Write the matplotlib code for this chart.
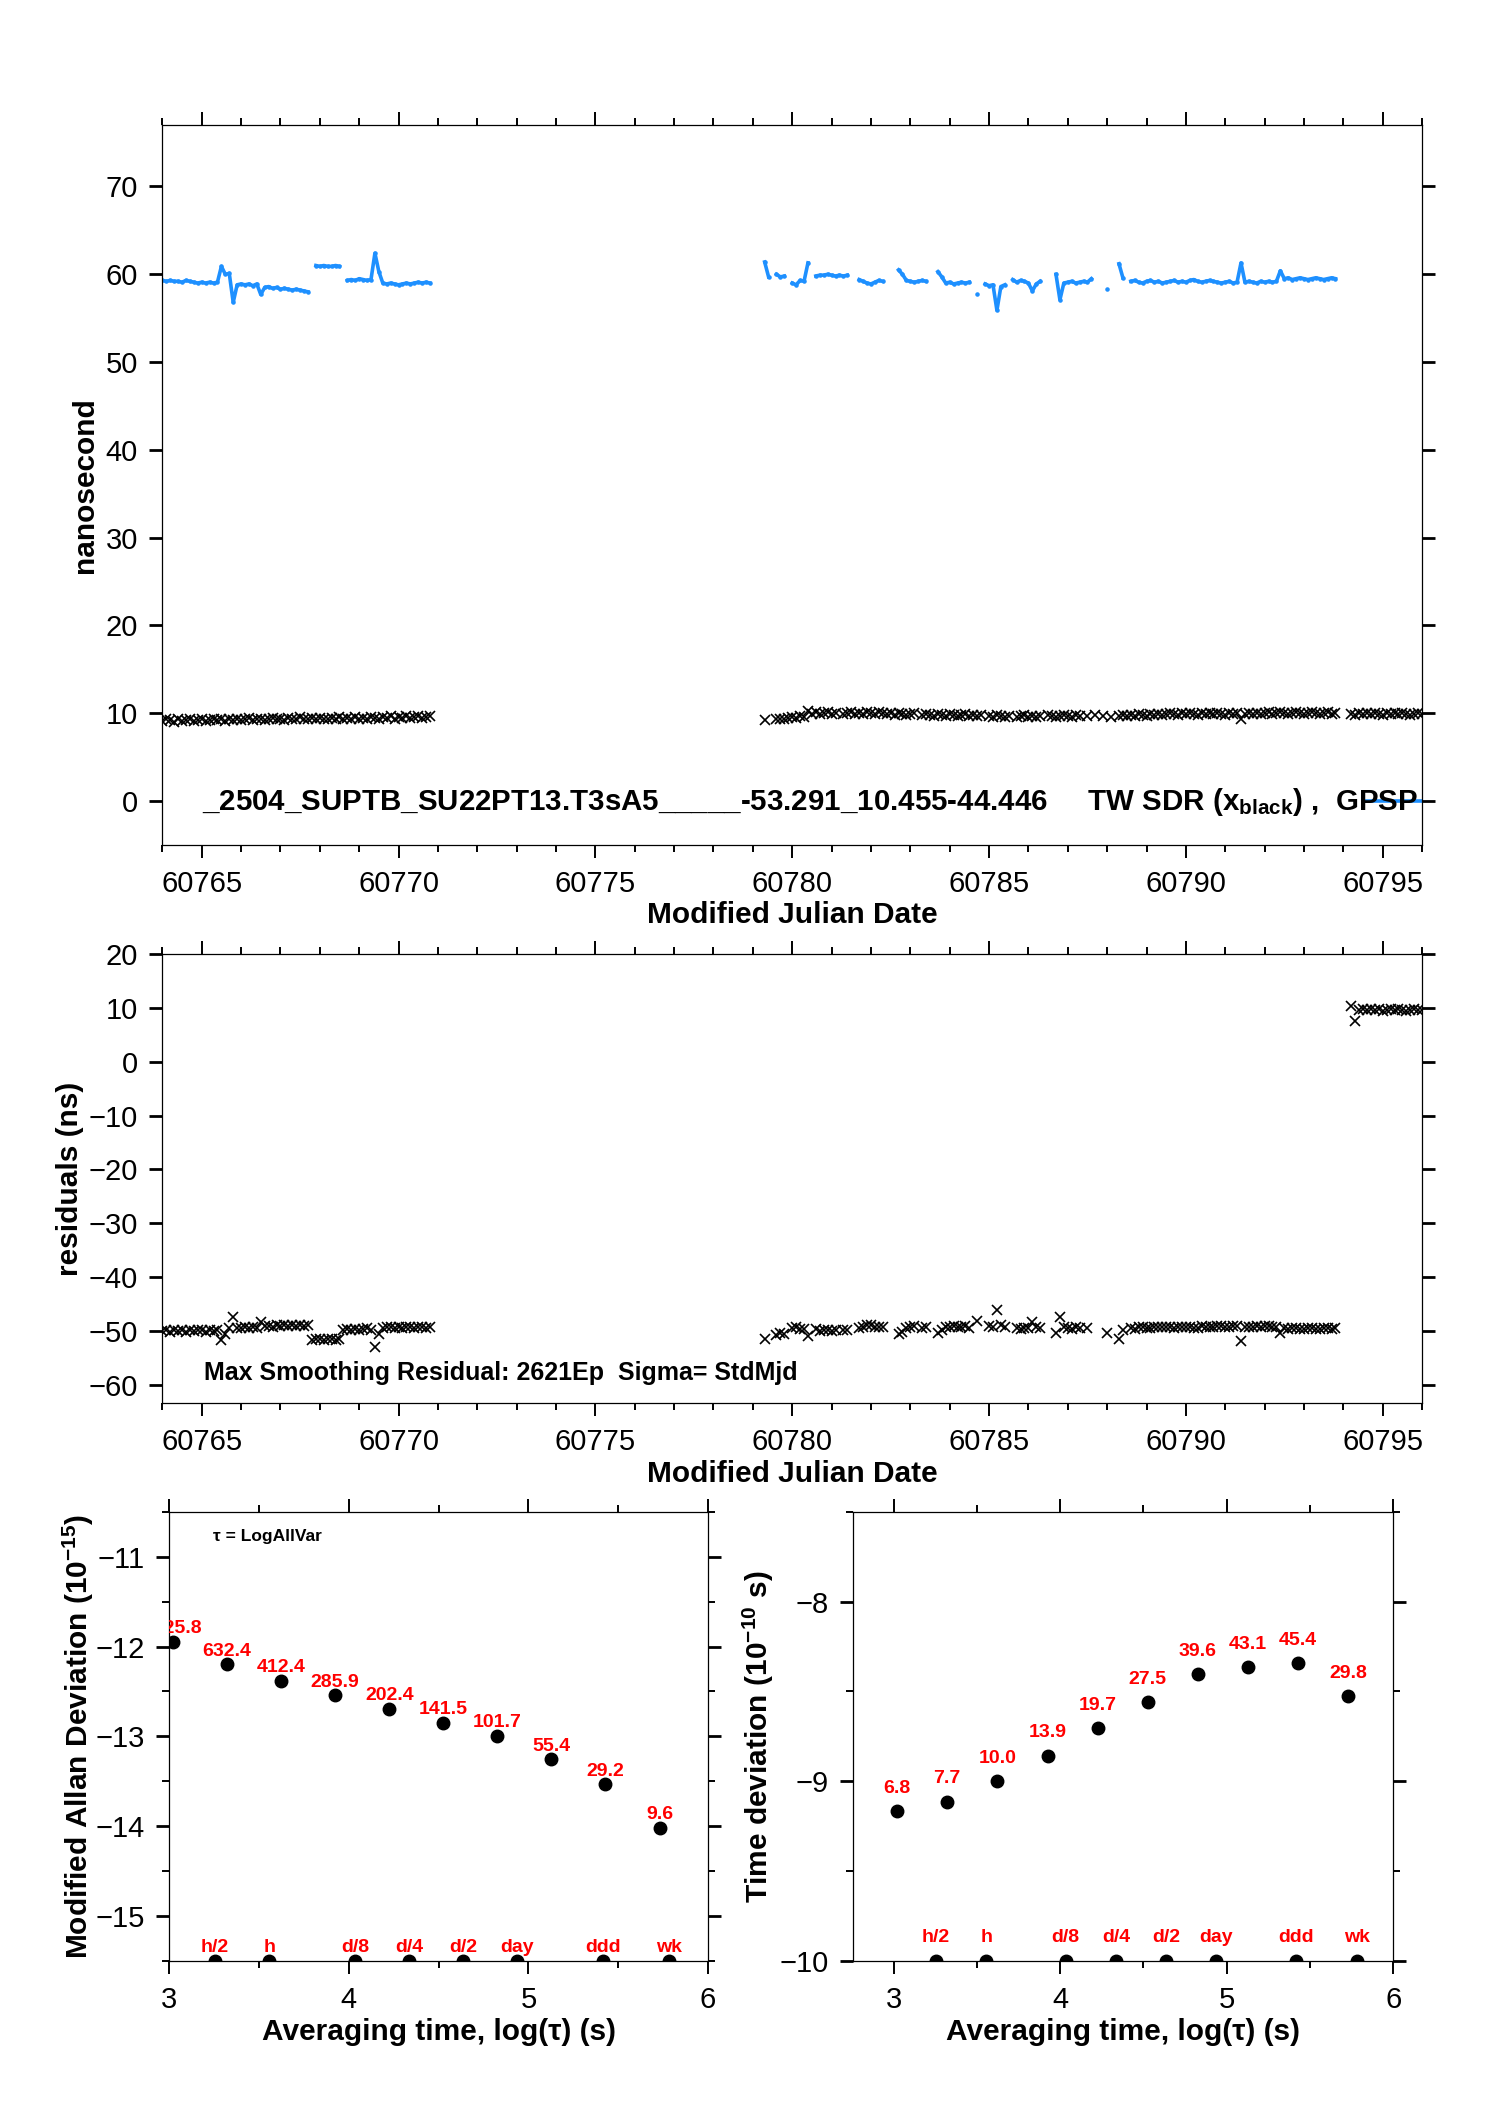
import numpy as np
import matplotlib
matplotlib.use("Agg")
import matplotlib.pyplot as plt
from matplotlib.ticker import MultipleLocator, FormatStrFormatter

plt.rcParams['font.family'] = ['Liberation Sans', 'DejaVu Sans']
plt.rcParams['mathtext.fontset'] = 'custom'
plt.rcParams['mathtext.rm'] = 'Liberation Sans:bold'
plt.rcParams['mathtext.it'] = 'Liberation Sans:bold'
plt.rcParams['mathtext.bf'] = 'Liberation Sans:bold'

nan = np.nan
MJD0 = 60764

# epochs, days after MJD0
t_seg1 = [0.0, 0.1, 0.2, 0.3, 0.4, 0.5, 0.6, 0.7, 0.8, 0.9,
          1.0, 1.1, 1.2, 1.3, 1.4, 1.5, 1.6, 1.7, 1.8, 1.9,
          2.0, 2.1, 2.2, 2.3, 2.4, 2.5, 2.6, 2.7, 2.8, 2.9,
          3.0, 3.1, 3.2, 3.3, 3.4, 3.5, 3.6, 3.7, 3.8, 3.9,
          4.0, 4.1, 4.2, 4.3, 4.4, 4.5, 4.6, 4.7, 4.8, 4.9,
          5.0, 5.1, 5.2, 5.3, 5.4, 5.5, 5.6, 5.7, 5.8, 5.9,
          6.0, 6.1, 6.2, 6.3, 6.4, 6.5, 6.6, 6.7, 6.8]
t_seg2 = [15.3, 15.4, 15.5, 15.6, 15.7, 15.8, 15.9, 16.0, 16.1, 16.2,
          16.3, 16.4, 16.5, 16.6, 16.7, 16.8, 16.9, 17.0, 17.1, 17.2,
          17.3, 17.4, 17.5, 17.6, 17.7, 17.8, 17.9, 18.0, 18.1, 18.2,
          18.3, 18.4, 18.5, 18.6, 18.7, 18.8, 18.9, 19.0, 19.1, 19.2,
          19.3, 19.4, 19.5, 19.6, 19.7, 19.8, 19.9, 20.0, 20.1, 20.2,
          20.3, 20.4, 20.5, 20.6, 20.7, 20.8, 20.9, 21.0, 21.1, 21.2,
          21.3, 21.4, 21.5, 21.6, 21.7, 21.8, 21.9, 22.0, 22.1, 22.2,
          22.3, 22.4, 22.5, 22.6, 22.7, 22.8, 22.9, 23.0, 23.1, 23.2,
          23.3, 23.4, 23.5, 23.6, 23.7, 23.8, 23.9, 24.0, 24.1, 24.2,
          24.3, 24.4, 24.5, 24.6, 24.7, 24.8, 24.9, 25.0, 25.1, 25.2,
          25.3, 25.4, 25.5, 25.6, 25.7, 25.8, 25.9, 26.0, 26.1, 26.2,
          26.3, 26.4, 26.5, 26.6, 26.7, 26.8, 26.9, 27.0, 27.1, 27.2,
          27.3, 27.4, 27.5, 27.6, 27.7, 27.8, 27.9, 28.0, 28.1, 28.2,
          28.3, 28.4, 28.5, 28.6, 28.7, 28.8, 28.9, 29.0, 29.1, 29.2,
          29.3, 29.4, 29.5, 29.6, 29.7, 29.8]
t_seg3 = [30.2, 30.3, 30.4, 30.5, 30.6, 30.7, 30.8, 30.9, 31.0, 31.1,
          31.2, 31.3, 31.4, 31.5, 31.6, 31.7, 31.8, 31.9, 32.0]

# TW SDR (black x), ns
sdr_seg1 = [9.1, 9.3, 9.2, 9.0, 9.3, 9.1, 9.2, 9.4, 9.1, 9.2,
            9.3, 9.1, 9.2, 9.4, 9.2, 9.3, 9.1, 9.3, 9.2, 9.4,
            9.2, 9.3, 9.5, 9.2, 9.3, 9.4, 9.2, 9.3, 9.5, 9.3,
            9.4, 9.2, 9.5, 9.3, 9.4, 9.6, 9.3, 9.4, 9.5, 9.3,
            9.5, 9.4, 9.3, 9.5, 9.4, 9.6, 9.3, 9.5, 9.4, 9.6,
            9.4, 9.5, 9.3, 9.6, 9.5, 9.4, 9.6, 9.5, 9.7, 9.4,
            9.6, 9.5, 9.7, 9.5, 9.6, 9.7, 9.5, 9.6, 9.7]
sdr_seg2 = [9.2, nan, nan, 9.3, 9.4, 9.3, 9.5, 9.6, 9.5, 9.7,
            9.6, 10.3, 9.9, 10.1, 9.9, 10.0, 10.1, 9.9, 10.0, nan,
            9.9, 10.0, 10.1, 9.9, 10.0, 9.9, 10.1, 10.0, 9.9, 10.1,
            10.0, 9.9, 10.0, 9.8, 10.0, 9.9, 9.8, 9.9, 10.0, nan,
            9.8, 9.9, 9.8, 9.7, 9.9, 9.8, 9.7, 9.9, 9.8, 9.7,
            9.8, 9.9, 9.7, 9.8, 9.7, 9.8, nan, 9.7, 9.6, 9.8,
            9.7, 9.6, 9.7, nan, 9.6, 9.7, 9.8, 9.6, 9.7, 9.6,
            9.7, nan, 9.8, 9.7, 9.6, 9.7, 9.8, 9.7, 9.6, 9.8,
            9.7, nan, 9.7, nan, 9.8, nan, 9.7, nan, 9.6, nan,
            9.7, 9.8, 9.7, 9.8, 9.7, 9.9, 9.8, 9.7, 9.9, 9.8,
            9.9, 9.8, 9.9, 10.0, 9.9, 9.8, 10.0, 9.9, 10.0, 9.9,
            9.8, 10.0, 9.9, 10.0, 9.9, 10.0, 9.9, 9.8, 10.0, 9.9,
            10.0, 9.4, 9.9, 10.0, 9.9, 10.0, 9.9, 10.0, 10.1, 9.9,
            10.0, 10.1, 10.0, 9.9, 10.0, 10.1, 10.0, 9.9, 10.0, 10.1,
            10.0, 9.9, 10.0, 10.1, 9.9, 10.0]
sdr_seg3 = [9.9, 9.8, 10.0, 9.9, 10.0, 9.9, 10.0, 9.9, 9.8, 10.0,
            9.9, 10.0, 9.9, 10.0, 9.9, 9.8, 9.9, 10.0, 9.9]

# GPSP (blue), ns
gps_seg1 = [59.3, 59.2, 59.3, 59.2, 59.2, 59.1, 59.3, 59.2, 59.1, 59.0,
            59.1, 59.0, 59.1, 59.0, 59.1, 60.9, 60.0, 60.1, 56.8, 58.8,
            58.9, 58.8, 58.9, 58.7, 58.9, 57.7, 58.5, 58.6, 58.4, 58.5,
            58.3, 58.4, 58.3, 58.2, 58.3, 58.2, 58.1, 58.0, nan, 61.0,
            60.9, 61.0, 60.9, 60.9, 61.0, 60.9, nan, 59.3, 59.4, 59.3,
            59.5, 59.4, 59.3, 59.4, 62.4, 60.3, 59.0, 58.9, 59.0, 58.9,
            58.8, 58.9, 59.0, 58.9, 59.0, 59.1, 59.0, 59.1, 59.0]
gps_seg2 = [61.4, 59.7, nan, 60.0, 59.7, 59.8, nan, 59.0, 58.8, 59.3,
            59.2, 61.3, nan, 59.8, 59.9, 59.9, 60.0, 59.9, 59.8, 59.9,
            59.8, 59.9, nan, nan, 59.4, 59.2, 59.0, 58.9, 59.1, 59.3,
            59.2, nan, nan, nan, 60.5, 60.0, 59.3, 59.2, 59.1, 59.2,
            59.3, 59.2, nan, nan, 60.3, 59.7, 59.0, 59.1, 58.9, 59.0,
            59.1, 59.0, 59.1, nan, 57.8, nan, 58.9, 58.7, 58.8, 55.9,
            58.6, 58.8, nan, 59.4, 59.1, 59.3, 59.2, 59.0, 58.1, 58.9,
            59.2, nan, nan, nan, 60.0, 57.1, 59.0, 59.1, 59.2, 59.0,
            59.1, 59.2, 59.1, 59.5, nan, nan, nan, 58.3, nan, nan,
            61.2, 59.6, nan, 59.2, 59.3, 59.1, 59.0, 59.2, 59.3, 59.1,
            59.2, 59.0, 59.1, 59.2, 59.3, 59.1, 59.2, 59.1, 59.3, 59.4,
            59.2, 59.1, 59.2, 59.3, 59.2, 59.1, 59.0, 59.1, 59.2, 59.0,
            59.1, 61.3, 59.1, 59.2, 59.1, 59.0, 59.2, 59.1, 59.2, 59.1,
            59.2, 60.4, 59.5, 59.6, 59.4, 59.5, 59.6, 59.5, 59.4, 59.5,
            59.6, 59.5, 59.4, 59.5, 59.6, 59.5]

# residuals, ns
res_seg1 = [-50.0, -49.8, -50.1, -49.9, -50.0, -49.8, -50.1, -49.9, -50.0, -49.8,
            -49.9, -50.1, -49.8, -50.0, -49.9, -51.6, -50.5, -49.4, -47.4, -49.5,
            -49.4, -49.3, -49.5, -49.2, -49.4, -48.3, -49.1, -49.0, -49.2, -48.9,
            -49.0, -48.9, -49.1, -48.8, -49.0, -48.9, -49.0, -48.8, -51.6, -51.5,
            -51.4, -51.6, -51.5, -51.4, -51.6, -51.4, -49.9, -49.7, -49.9, -49.6,
            -49.8, -49.7, -49.5, -49.9, -53.0, -50.6, -49.4, -49.3, -49.2, -49.5,
            -49.3, -49.4, -49.2, -49.3, -49.4, -49.2, -49.3, -49.5, -49.3]
res_seg2 = [-51.5, nan, nan, -50.7, -50.3, -50.5, nan, -49.4, -49.3, -49.6,
            -49.6, -51.0, nan, -49.7, -50.0, -49.9, -49.9, -50.0, -49.8, nan,
            -49.9, -49.9, nan, nan, -49.4, -49.3, -48.9, -48.9, -49.2, -49.2,
            -49.2, nan, nan, nan, -50.5, -50.1, -49.5, -49.3, -49.1, nan,
            -49.5, -49.3, nan, nan, -50.4, -49.9, -49.3, -49.2, -49.1, -49.3,
            -49.3, -49.1, -49.4, nan, -48.1, nan, nan, -49.0, -49.2, -46.1,
            -48.9, -49.2, nan, nan, -49.5, -49.6, -49.4, -49.4, -48.4, -49.3,
            -49.5, nan, nan, nan, -50.4, -47.4, -49.2, -49.4, -49.6, -49.2,
            -49.4, nan, -49.4, nan, nan, nan, nan, -50.4, nan, nan,
            -51.5, -49.8, nan, -49.4, -49.6, -49.2, -49.2, -49.5, -49.4, -49.3,
            -49.3, -49.2, -49.2, -49.2, -49.4, -49.3, -49.2, -49.2, -49.3, -49.5,
            -49.4, -49.1, -49.3, -49.3, -49.3, -49.1, -49.1, -49.3, -49.2, -49.1,
            -49.1, -51.9, -49.2, -49.2, -49.2, -49.0, -49.3, -49.1, -49.1, -49.2,
            -49.2, -50.3, -49.5, -49.7, -49.4, -49.4, -49.6, -49.6, -49.4, -49.4,
            -49.6, -49.6, -49.4, -49.4, -49.7, -49.5]
res_seg3 = [10.3, 7.5, 9.6, 9.7, 9.6, 9.7, 9.6, 9.7, 9.5, 9.6,
            9.7, 9.6, 9.7, 9.6, 9.5, 9.6, 9.7, 9.6, 9.6]

# stability analysis
log_tau = [3.021, 3.322, 3.623, 3.924, 4.225, 4.526, 4.827, 5.128, 5.429, 5.730]
mdev_1e15 = [1125.8, 632.4, 412.4, 285.9, 202.4, 141.5, 101.7, 55.4, 29.2, 9.6]
tdev_1e10 = [6.8, 7.7, 10.0, 13.9, 19.7, 27.5, 39.6, 43.1, 45.4, 29.8]
mark_tau = [1800, 3600, 10800, 21600, 43200, 86400, 259200, 604800]
mark_names = ['h/2', 'h', 'd/8', 'd/4', 'd/2', 'day', 'ddd', 'wk']

BLUE = '#1E90FF'
RED = '#FF0000'


def style_axes(ax):
    for s in ax.spines.values():
        s.set_linewidth(0.9)
    ax.tick_params(which='both', direction='out', top=True, right=True,
                   labelsize=21, width=1.4)
    ax.tick_params(which='major', length=9.5)
    ax.tick_params(which='minor', length=5)
    ax.tick_params(axis='y', which='major', width=2.0)
    ax.tick_params(axis='x', pad=8.5)
    ax.tick_params(axis='y', pad=8)


fig = plt.figure(figsize=(14.88, 21.05), dpi=100)
ax_ts = fig.add_axes([0.1091, 0.5986, 0.8466, 0.3420])
ax_res = fig.add_axes([0.1091, 0.3334, 0.8466, 0.2134])
ax_mdev = fig.add_axes([0.1138, 0.0684, 0.3620, 0.2134])
ax_tdev = fig.add_axes([0.5732, 0.0684, 0.3632, 0.2134])

# ---- time series
for t, v in [(t_seg1, gps_seg1), (t_seg2, gps_seg2)]:
    ax_ts.plot(MJD0 + np.array(t), v, '-', color=BLUE, lw=2.6,
               marker='.', ms=4.5)
for t, v in [(t_seg1, sdr_seg1), (t_seg2, sdr_seg2), (t_seg3, sdr_seg3)]:
    ax_ts.plot(MJD0 + np.array(t), v, 'x', color='k', ms=6.5, mew=1.2)

ax_ts.set_xlim(60764, 60796)
ax_ts.set_ylim(-5, 77)
ax_ts.xaxis.set_major_locator(MultipleLocator(5))
ax_ts.xaxis.set_minor_locator(MultipleLocator(1))
ax_ts.yaxis.set_major_locator(MultipleLocator(10))
ax_ts.xaxis.set_major_formatter(FormatStrFormatter('%d'))
style_axes(ax_ts)
ax_ts.set_xlabel('Modified Julian Date', fontsize=21.5, fontweight='bold')
ax_ts.xaxis.set_label_coords(0.5, -0.078)
ax_ts.set_ylabel('nanosecond', fontsize=21.5, fontweight='bold')
ax_ts.yaxis.set_label_coords(-0.050, 0.5)

ax_ts.plot([0.955, 1.05], [0.061, 0.061], color=BLUE, lw=2.6,
           transform=ax_ts.transAxes, clip_on=True)
ax_ts.text(0.0315, 0.060,
           r'_2504_SUPTB_SU22PT13.T3sA5_____-53.291_10.455-44.446     '
           r'TW SDR (x$_{\mathrm{black}}$) ,  GPSP',
           transform=ax_ts.transAxes, fontsize=21.25, fontweight='bold',
           ha='left', va='center', clip_on=True, zorder=5)

# ---- residuals
for t, v in [(t_seg1, res_seg1), (t_seg2, res_seg2), (t_seg3, res_seg3)]:
    ax_res.plot(MJD0 + np.array(t), v, 'x', color='k', ms=6.5, mew=1.2)
ax_res.set_xlim(60764, 60796)
ax_res.set_ylim(-63.4, 20)
ax_res.xaxis.set_major_locator(MultipleLocator(5))
ax_res.xaxis.set_minor_locator(MultipleLocator(1))
ax_res.yaxis.set_major_locator(MultipleLocator(10))
ax_res.xaxis.set_major_formatter(FormatStrFormatter('%d'))
style_axes(ax_res)
ax_res.set_xlabel('Modified Julian Date', fontsize=21.5, fontweight='bold')
ax_res.xaxis.set_label_coords(0.5, -0.126)
ax_res.set_ylabel('residuals (ns)', fontsize=21.5, fontweight='bold')
ax_res.yaxis.set_label_coords(-0.062, 0.5)
ax_res.text(0.0334, 0.067, 'Max Smoothing Residual: 2621Ep  Sigma= StdMjd',
            transform=ax_res.transAxes, fontsize=18, fontweight='bold',
            ha='left', va='center')


# ---- stability panels
def stability_panel(ax, yvals, labels, ylim, lab_off, mark_off):
    ax.plot(log_tau, yvals, 'o', color='k', ms=9)
    for x, y, lab in zip(log_tau, yvals, labels):
        ax.annotate(f'{lab:.1f}', (x, y), xytext=(0, lab_off),
                    textcoords='offset points', ha='center', va='center',
                    color=RED, fontsize=14, fontweight='bold', clip_on=True)
    mx = np.log10(mark_tau)
    ax.plot(mx, [ylim[0]] * len(mx), 'o', color='k', ms=9)
    for x, name in zip(mx, mark_names):
        ax.annotate(name, (x, ylim[0]), xytext=(0, mark_off),
                    textcoords='offset points', ha='center', va='center',
                    color=RED, fontsize=14, fontweight='bold')
    ax.set_ylim(*ylim)
    ax.xaxis.set_major_locator(MultipleLocator(1))
    ax.xaxis.set_minor_locator(MultipleLocator(0.5))
    ax.yaxis.set_major_locator(MultipleLocator(1))
    ax.yaxis.set_minor_locator(MultipleLocator(0.5))
    style_axes(ax)
    ax.set_xlabel('Averaging time, log(τ) (s)', fontsize=21.5, fontweight='bold')
    ax.xaxis.set_label_coords(0.5, -0.126)


mdev_log = np.log10(np.array(mdev_1e15) * 1e-15)
tdev_log = np.log10(np.array(tdev_1e10) * 1e-10)

stability_panel(ax_mdev, mdev_log, mdev_1e15, (-15.5, -10.5), 9.5, 9.5)
ax_mdev.set_xlim(3, 6)
ax_mdev.set_ylabel('Modified Allan Deviation (10$^{-15}$)', fontsize=21.5,
                   fontweight='bold')
ax_mdev.yaxis.set_label_coords(-0.137, 0.5)
ax_mdev.text(0.081, 0.944, 'τ = LogAllVar', transform=ax_mdev.transAxes,
             fontsize=12.5, fontweight='bold', ha='left', va='center')

stability_panel(ax_tdev, tdev_log, tdev_1e10, (-10, -7.5), 16.5, 17)
ax_tdev.set_xlim(2.756, 6)
ax_tdev.set_ylabel('Time deviation (10$^{-10}$ s)', fontsize=21.5,
                   fontweight='bold')
ax_tdev.yaxis.set_label_coords(-0.143, 0.5)

fig.savefig('out.png', dpi=100)
